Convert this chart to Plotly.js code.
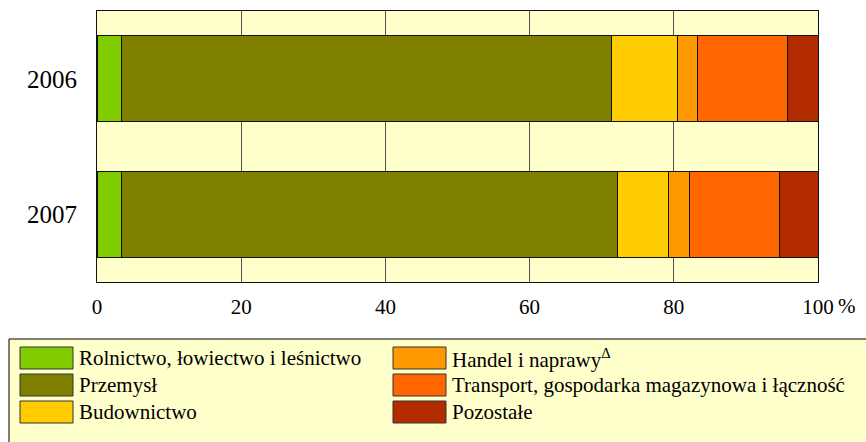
<!DOCTYPE html>
<html>
<head>
<meta charset="utf-8">
<script src="https://cdn.plot.ly/plotly-3.0.1.min.js"></script>
<style>html,body{margin:0;padding:0;background:#fff;}#chart{width:866px;height:442px;}</style>
</head>
<body>
<div id="chart"></div>
<script>
// ---- data ----
var years = ['2006', '2007'];
var rolnictwo = [3.4, 3.4];
var przemysl = [68.0, 68.8];
var budownictwo = [9.1, 7.0];
var handel = [2.8, 3.0];
var transport = [12.5, 12.5];
var pozostale = [4.2, 5.3];
var seriesNames = ['Rolnictwo, łowiectwo i leśnictwo', 'Przemysł', 'Budownictwo',
                   'Handel i naprawy<sup>Δ</sup>', 'Transport, gospodarka magazynowa i łączność', 'Pozostałe'];
var seriesValues = [rolnictwo, przemysl, budownictwo, handel, transport, pozostale];
var seriesColors = ['#80CC00', '#808000', '#FFCC00', '#FF9900', '#FF6600', '#B22C00'];
var xTickVals = [0, 20, 40, 60, 80, 100];
var xTickText = ['0', '20', '40', '60', '80', '100'];

// ---- layout geometry (pixels) ----
var W = 866, H = 442;
var M = {l: 97, r: 48, t: 11, b: 160};
var PW = W - M.l - M.r, PH = H - M.t - M.b;
function px(x) { return (x - M.l) / PW; }
function py(y) { return (H - M.b - y) / PH; }
var FONT = 'Liberation Serif, Times New Roman, serif';

var traces = seriesValues.map(function (vals, i) {
  return {
    type: 'bar', orientation: 'h', y: years, x: vals, name: seriesNames[i],
    marker: {color: seriesColors[i], line: {color: '#111', width: 1}},
    hoverinfo: 'x+name', showlegend: false
  };
});

// custom legend built from the series arrays
var shapes = [{
  type: 'rect', xref: 'paper', yref: 'paper', layer: 'below',
  x0: px(9), x1: px(875), y0: py(339), y1: py(460),
  fillcolor: '#FFFFCC', line: {color: '#000', width: 1}
}];
var annotations = [];
var colX = [20, 393], rowY = [347, 374, 401], swW = 53, swH = 22;
seriesNames.forEach(function (n, i) {
  var c = Math.floor(i / 3), r = i % 3;
  var x0 = colX[c], y0 = rowY[r];
  shapes.push({
    type: 'rect', xref: 'paper', yref: 'paper',
    x0: px(x0), x1: px(x0 + swW), y0: py(y0), y1: py(y0 + swH),
    fillcolor: seriesColors[i], line: {color: '#333', width: 1}
  });
  annotations.push({
    xref: 'paper', yref: 'paper', x: px(x0 + swW + 4), y: py(y0 + swH / 2),
    xanchor: 'left', yanchor: 'middle', text: n, showarrow: false,
    font: {family: FONT, size: 21, color: '#000'}
  });
});
annotations.push({
  xref: 'paper', yref: 'paper', x: px(836), y: py(306), xanchor: 'left', yanchor: 'middle',
  text: '%', showarrow: false, font: {family: FONT, size: 21, color: '#000'}
});

var layout = {
  width: W, height: H,
  margin: M,
  barmode: 'stack', bargap: 0.365,
  paper_bgcolor: '#FFFFFF', plot_bgcolor: '#FFFFCC',
  showlegend: false,
  font: {family: FONT, size: 21, color: '#000'},
  xaxis: {
    range: [0, 100], tickvals: xTickVals, ticktext: xTickText,
    showgrid: true, gridcolor: '#555', gridwidth: 1, zeroline: false,
    showline: true, mirror: true, linecolor: '#111', linewidth: 1,
    ticks: '', ticklabelstandoff: 6, tickfont: {family: FONT, size: 21, color: '#000'}
  },
  yaxis: {
    type: 'category', autorange: 'reversed', showgrid: false, zeroline: false,
    showline: true, mirror: true, linecolor: '#111', linewidth: 1,
    ticks: '', ticklabelstandoff: 14, tickfont: {family: FONT, size: 25, color: '#000'}
  },
  shapes: shapes,
  annotations: annotations
};

Plotly.newPlot('chart', traces, layout, {displayModeBar: false, staticPlot: true});
</script>
</body>
</html>
